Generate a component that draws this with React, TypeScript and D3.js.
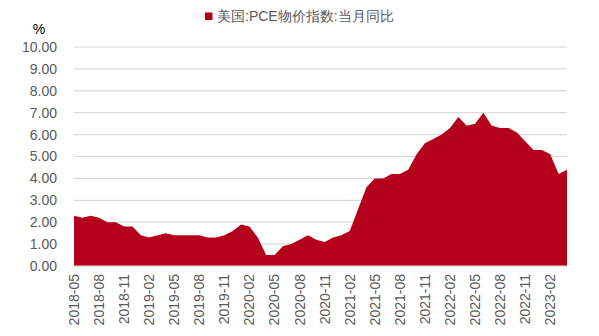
import React from "react";
import * as d3 from "d3";

const months: string[] = (() => {
  const out: string[] = [];
  let y = 2018, m = 5;
  for (let i = 0; i < 60; i++) {
    out.push(`${y}-${String(m).padStart(2, "0")}`);
    m++;
    if (m > 12) { m = 1; y++; }
  }
  return out;
})();

const pceYoY: number[] = [
  2.3, 2.2, 2.3, 2.2, 2.0, 2.0, 1.8, 1.8,
  1.4, 1.3, 1.4, 1.5, 1.4, 1.4, 1.4, 1.4, 1.3, 1.3, 1.4, 1.6,
  1.9, 1.8, 1.3, 0.5, 0.5, 0.9, 1.0, 1.2, 1.4, 1.2, 1.1, 1.3,
  1.4, 1.6, 2.6, 3.6, 4.0, 4.0, 4.2, 4.2, 4.4, 5.1, 5.6, 5.8,
  6.0, 6.3, 6.8, 6.4, 6.5, 7.0, 6.4, 6.3, 6.3, 6.1, 5.7, 5.3,
  5.3, 5.1, 4.2, 4.4,
];

const yTicks: number[] = [0, 1, 2, 3, 4, 5, 6, 7, 8, 9, 10];
const seriesName = "美国:PCE物价指数:当月同比";
const unitLabel = "%";

export default function App() {
  const W = 599, H = 336;
  const left = 74, right = 567, top = 47, bottom = 266;
  const x = d3.scalePoint<string>().domain(months).range([left, right]);
  const y = d3.scaleLinear().domain([0, 10]).range([bottom, top]);
  const area = d3.area<number>()
    .x((_, i) => x(months[i]) as number)
    .y0(y(0))
    .y1((d) => y(d));
  const tickLabels = months.filter((_, i) => i % 3 === 0);
  const font = "Arial, 'Liberation Sans', sans-serif";
  return (
    <svg width={W} height={H} style={{ position: "absolute", left: 0, top: 0, display: "block" }}>
      <rect width={W} height={H} fill="#fff" />
      {yTicks.map((t) => (
        <line key={t} x1={left} x2={right} y1={y(t)} y2={y(t)} stroke="#d9d9d9" strokeWidth={1.2} />
      ))}
      <path d={area(pceYoY) || ""} fill="#b5001b" />
      <line x1={left} x2={right} y1={y(0)} y2={y(0)} stroke="#d9d9d9" strokeWidth={1.2} />
      {yTicks.map((t) => (
        <text key={t} x={57} y={y(t)} dy="0.35em" textAnchor="end" fontFamily={font} fontSize={14} fill="#595959">
          {t.toFixed(2)}
        </text>
      ))}
      <text x={39} y={29} dy="0.35em" textAnchor="middle" fontFamily={font} fontSize={14} fill="#000">{unitLabel}</text>
      {tickLabels.map((m) => (
        <text key={m} transform={`translate(${x(m)},${274}) rotate(-90)`} dy="0.35em" textAnchor="end" fontFamily={font} fontSize={14} fill="#595959">
          {m}
        </text>
      ))}
      <rect x={205} y={12.5} width={7.5} height={7.5} fill="#b5001b" />
      <text x={217} y={16.5} dy="0.35em" fontFamily={font} fontSize={14} fill="#595959">{seriesName}</text>
    </svg>
  );
}
